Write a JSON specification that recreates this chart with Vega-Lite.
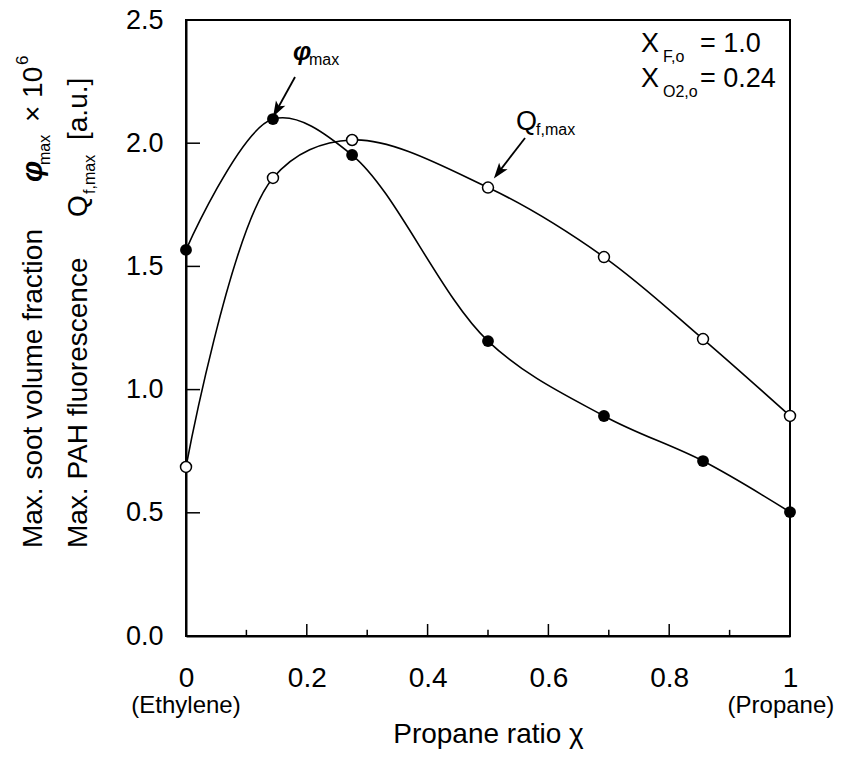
{
  "$schema": "https://vega.github.io/schema/vega-lite/v6.json",
  "width": 604,
  "height": 616,
  "autosize": {"type": "none"},
  "padding": {"left": 186, "top": 20, "right": 60, "bottom": 135},
  "background": "white",
  "config": {
    "font": "Liberation Sans",
    "view": {"stroke": "black", "strokeWidth": 2},
    "axis": {"grid": false, "domainColor": "black", "domainWidth": 2, "ticks": false, "tickSize": 0, "labelColor": "black", "titleColor": "black", "labelFont": "Liberation Sans", "titleFont": "Liberation Sans"}
  },
  "datasets": {
    "curves": [
      {"series": "phi", "x": 0, "y": 1.567},
      {"series": "phi", "x": 0.144, "y": 2.098},
      {"series": "phi", "x": 0.275, "y": 1.952},
      {"series": "phi", "x": 0.5, "y": 1.197},
      {"series": "phi", "x": 0.692, "y": 0.893},
      {"series": "phi", "x": 0.856, "y": 0.71},
      {"series": "phi", "x": 1, "y": 0.503},
      {"series": "Q", "x": 0, "y": 0.686},
      {"series": "Q", "x": 0.144, "y": 1.859},
      {"series": "Q", "x": 0.275, "y": 2.013},
      {"series": "Q", "x": 0.5, "y": 1.82},
      {"series": "Q", "x": 0.692, "y": 1.538},
      {"series": "Q", "x": 0.856, "y": 1.205},
      {"series": "Q", "x": 1, "y": 0.893}
    ],
    "xMajor": [{"v": 0.2}, {"v": 0.4}, {"v": 0.6}, {"v": 0.8}],
    "xMinor": [{"v": 0.1}, {"v": 0.3}, {"v": 0.5}, {"v": 0.7}, {"v": 0.9}],
    "yMajor": [{"v": 0.5}, {"v": 1.0}, {"v": 1.5}, {"v": 2.0}],
    "arrows": [
      {"name": "phi", "x": 0.1805, "y": 2.2687, "x2": 0.1513, "y2": 2.139},
      {"name": "Q", "x": 0.5613, "y": 2.0211, "x2": 0.5187, "y2": 1.8856}
    ],
    "rotBig": [
      {"x": -0.2384, "y": 0.357, "text": "Max. soot volume fraction"},
      {"x": -0.2384, "y": 2.086, "text": "× 10"},
      {"x": -0.1639, "y": 0.357, "text": "Max. PAH fluorescence"},
      {"x": -0.1639, "y": 1.7, "text": "Q"},
      {"x": -0.1639, "y": 2.013, "text": "[a.u.]"}
    ],
    "rotPhi": [{"x": -0.2384, "y": 1.8425, "text": "φ"}],
    "rotSub": [
      {"x": -0.2252, "y": 1.9116, "text": "max"},
      {"x": -0.1507, "y": 1.794, "text": "f,max"}
    ],
    "rotSup": [{"x": -0.2616, "y": 2.317, "text": "6"}],
    "horBig": [
      {"x": 0.7533, "y": 2.37, "text": "X"},
      {"x": 0.851, "y": 2.37, "text": "= 1.0"},
      {"x": 0.7533, "y": 2.228, "text": "X"},
      {"x": 0.851, "y": 2.228, "text": "= 0.24"},
      {"x": 0.5464, "y": 2.0536, "text": "Q"}
    ],
    "horSub": [
      {"x": 0.7897, "y": 2.33, "text": "F,o"},
      {"x": 0.7897, "y": 2.188, "text": "O2,o"},
      {"x": 0.2036, "y": 2.317, "text": "max"},
      {"x": 0.5795, "y": 2.033, "text": "f,max"}
    ],
    "horPhi": [{"x": 0.177, "y": 2.338, "text": "φ"}],
    "ends": [
      {"x": 0, "y": -0.3125, "text": "(Ethylene)"},
      {"x": 0.985, "y": -0.3125, "text": "(Propane)"}
    ]
  },
  "layer": [
    {
      "data": {"name": "curves"},
      "mark": {"type": "line", "interpolate": "catmull-rom", "color": "black", "strokeWidth": 1.6},
      "encoding": {
        "x": {
          "field": "x", "type": "quantitative",
          "scale": {"domain": [0, 1], "nice": false, "zero": false},
          "axis": {
            "values": [0, 0.2, 0.4, 0.6, 0.8, 1],
            "format": "~g",
            "labelFontSize": 28,
            "labelPadding": 28,
            "labelFlush": false,
            "labelOverlap": false,
            "title": "Propane ratio χ",
            "titleFontSize": 28,
            "titleFontWeight": "normal",
            "titlePadding": 28
          }
        },
        "y": {
          "field": "y", "type": "quantitative",
          "scale": {"domain": [0, 2.5], "nice": false, "zero": false},
          "axis": {
            "values": [0, 0.5, 1, 1.5, 2, 2.5],
            "format": ".1f",
            "labelFontSize": 27,
            "labelPadding": 23,
            "labelFlush": false,
            "labelOverlap": false,
            "title": null
          }
        },
        "detail": {"field": "series"}
      }
    },
    {
      "data": {"name": "xMajor"},
      "mark": {"type": "rule", "color": "black", "strokeWidth": 1.5},
      "encoding": {
        "x": {"field": "v", "type": "quantitative"},
        "y": {"datum": 0},
        "y2": {"datum": 0.0487}
      }
    },
    {
      "data": {"name": "xMinor"},
      "mark": {"type": "rule", "color": "black", "strokeWidth": 1.5},
      "encoding": {
        "x": {"field": "v", "type": "quantitative"},
        "y": {"datum": 0},
        "y2": {"datum": 0.025}
      }
    },
    {
      "data": {"name": "yMajor"},
      "mark": {"type": "rule", "color": "black", "strokeWidth": 1.5},
      "encoding": {
        "y": {"field": "v", "type": "quantitative"},
        "x": {"datum": 0},
        "x2": {"datum": 0.0232}
      }
    },
    {
      "data": {"name": "curves"},
      "transform": [{"filter": "datum.series == 'Q'"}],
      "mark": {"type": "point", "shape": "circle", "filled": true, "fill": "white", "stroke": "black", "strokeWidth": 1.5, "size": 120, "opacity": 1},
      "encoding": {
        "x": {"field": "x", "type": "quantitative"},
        "y": {"field": "y", "type": "quantitative"}
      }
    },
    {
      "data": {"name": "curves"},
      "transform": [{"filter": "datum.series == 'phi'"}],
      "mark": {"type": "point", "shape": "circle", "filled": true, "color": "black", "size": 140, "opacity": 1},
      "encoding": {
        "x": {"field": "x", "type": "quantitative"},
        "y": {"field": "y", "type": "quantitative"}
      }
    },
    {
      "data": {"name": "arrows"},
      "mark": {"type": "rule", "color": "black", "strokeWidth": 1.8},
      "encoding": {
        "x": {"field": "x", "type": "quantitative"},
        "y": {"field": "y", "type": "quantitative"},
        "x2": {"field": "x2"},
        "y2": {"field": "y2"}
      }
    },
    {
      "data": {"name": "arrows"},
      "transform": [{"filter": "datum.name == 'phi'"}],
      "mark": {"type": "point", "shape": "M0,1L-0.6,-0.75L0,-0.35L0.6,-0.75Z", "filled": true, "color": "black", "size": 320, "angle": 29, "opacity": 1},
      "encoding": {
        "x": {"field": "x2", "type": "quantitative"},
        "y": {"field": "y2", "type": "quantitative"}
      }
    },
    {
      "data": {"name": "arrows"},
      "transform": [{"filter": "datum.name == 'Q'"}],
      "mark": {"type": "point", "shape": "M0,1L-0.6,-0.75L0,-0.35L0.6,-0.75Z", "filled": true, "color": "black", "size": 320, "angle": 37.6, "opacity": 1},
      "encoding": {
        "x": {"field": "x2", "type": "quantitative"},
        "y": {"field": "y2", "type": "quantitative"}
      }
    },
    {
      "data": {"name": "rotBig"},
      "mark": {"type": "text", "angle": 270, "align": "left", "baseline": "alphabetic", "fontSize": 28, "color": "black"},
      "encoding": {
        "x": {"field": "x", "type": "quantitative"},
        "y": {"field": "y", "type": "quantitative"},
        "text": {"field": "text"}
      }
    },
    {
      "data": {"name": "rotPhi"},
      "mark": {"type": "text", "angle": 270, "align": "left", "baseline": "alphabetic", "fontSize": 30, "fontStyle": "italic", "fontWeight": "bold", "color": "black"},
      "encoding": {
        "x": {"field": "x", "type": "quantitative"},
        "y": {"field": "y", "type": "quantitative"},
        "text": {"field": "text"}
      }
    },
    {
      "data": {"name": "rotSub"},
      "mark": {"type": "text", "angle": 270, "align": "left", "baseline": "alphabetic", "fontSize": 16, "color": "black"},
      "encoding": {
        "x": {"field": "x", "type": "quantitative"},
        "y": {"field": "y", "type": "quantitative"},
        "text": {"field": "text"}
      }
    },
    {
      "data": {"name": "rotSup"},
      "mark": {"type": "text", "angle": 270, "align": "left", "baseline": "alphabetic", "fontSize": 17, "color": "black"},
      "encoding": {
        "x": {"field": "x", "type": "quantitative"},
        "y": {"field": "y", "type": "quantitative"},
        "text": {"field": "text"}
      }
    },
    {
      "data": {"name": "horBig"},
      "mark": {"type": "text", "align": "left", "baseline": "alphabetic", "fontSize": 27, "color": "black"},
      "encoding": {
        "x": {"field": "x", "type": "quantitative"},
        "y": {"field": "y", "type": "quantitative"},
        "text": {"field": "text"}
      }
    },
    {
      "data": {"name": "horSub"},
      "mark": {"type": "text", "align": "left", "baseline": "alphabetic", "fontSize": 16, "color": "black"},
      "encoding": {
        "x": {"field": "x", "type": "quantitative"},
        "y": {"field": "y", "type": "quantitative"},
        "text": {"field": "text"}
      }
    },
    {
      "data": {"name": "horPhi"},
      "mark": {"type": "text", "align": "left", "baseline": "alphabetic", "fontSize": 26, "fontStyle": "italic", "fontWeight": "bold", "color": "black"},
      "encoding": {
        "x": {"field": "x", "type": "quantitative"},
        "y": {"field": "y", "type": "quantitative"},
        "text": {"field": "text"}
      }
    },
    {
      "data": {"name": "ends"},
      "mark": {"type": "text", "align": "center", "baseline": "alphabetic", "fontSize": 24, "color": "black"},
      "encoding": {
        "x": {"field": "x", "type": "quantitative"},
        "y": {"field": "y", "type": "quantitative"},
        "text": {"field": "text"}
      }
    }
  ]
}
